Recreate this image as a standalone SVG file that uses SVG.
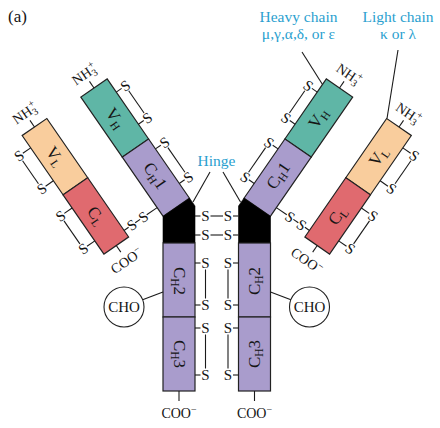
<svg xmlns="http://www.w3.org/2000/svg" width="440" height="428" viewBox="0 0 440 428">
<style>
text{font-family:"Liberation Serif","Times New Roman",serif;fill:#151515}
.d{stroke:#222;stroke-width:1.2}
.vh{fill:#5fb6a6}.ch{fill:#a99ccc}.vl{fill:#f9cd9d}.cl{fill:#e06a6f}
.hg{fill:#000;stroke:#000;stroke-width:0.6}
.lab{font-size:17px;text-anchor:middle}
.sub{font-size:11.5px}
.s{font-size:15px;text-anchor:middle}
.t{font-size:14px;text-anchor:middle}
.sm{font-size:10px}
.b{font-size:15.5px;text-anchor:middle;fill:#2a9fcf}
line{stroke:#1a1a1a;stroke-width:1.1;fill:none}
.cho{fill:#fff;stroke:#222;stroke-width:1.1}
</style>
<rect width="440" height="428" fill="#fff"/>
<text x="8" y="22" font-size="17">(a)</text>

<!-- left heavy chain -->
<g id="VH-left" transform="translate(94,88) rotate(-34.6)">
 <rect class="d vh" x="-16" y="0" width="32" height="73"/>
 <text class="lab" transform="translate(0,37) rotate(90)" dy="5">V<tspan class="sub" dy="3">H</tspan></text>
</g>
<g id="CH1-left" transform="translate(94,88) rotate(-34.6)">
 <rect class="d ch" x="-16" y="73" width="32" height="72"/>
 <text class="lab" transform="translate(0,107) rotate(90)" dy="5">C<tspan class="sub" dy="3">H</tspan><tspan dy="-3">1</tspan></text>
</g>
<g id="hinge-left"><polygon class="hg" points="163,216.5 189.6,198.2 195,206 195,243 163,243"/></g>
<g id="CH2-left">
 <rect class="d ch" x="163" y="243" width="32" height="74"/>
 <text class="lab" transform="translate(179,281) rotate(90)" dy="5">C<tspan class="sub" dy="3">H</tspan><tspan dy="-3">2</tspan></text>
</g>
<g id="CH3-left">
 <rect class="d ch" x="163" y="317" width="32" height="74"/>
 <text class="lab" transform="translate(179,354) rotate(90)" dy="5">C<tspan class="sub" dy="3">H</tspan><tspan dy="-3">3</tspan></text>
</g>

<!-- right heavy chain -->
<g id="VH-right" transform="translate(339.5,88) rotate(34.6)">
 <rect class="d vh" x="-16" y="0" width="32" height="73"/>
 <text class="lab" transform="translate(0,37) rotate(-90)" dy="5">V<tspan class="sub" dy="3">H</tspan></text>
</g>
<g id="CH1-right" transform="translate(339.5,88) rotate(34.6)">
 <rect class="d ch" x="-16" y="73" width="32" height="72"/>
 <text class="lab" transform="translate(0,107) rotate(-90)" dy="5">C<tspan class="sub" dy="3">H</tspan><tspan dy="-3">1</tspan></text>
</g>
<g id="hinge-right"><polygon class="hg" points="270.5,216.5 243.9,198.2 238.5,206 238.5,243 270.5,243"/></g>
<g id="CH2-right">
 <rect class="d ch" x="238.5" y="243" width="32" height="74"/>
 <text class="lab" transform="translate(254.5,281) rotate(-90)" dy="5">C<tspan class="sub" dy="3">H</tspan><tspan dy="-3">2</tspan></text>
</g>
<g id="CH3-right">
 <rect class="d ch" x="238.5" y="317" width="32" height="74"/>
 <text class="lab" transform="translate(254.5,354) rotate(-90)" dy="5">C<tspan class="sub" dy="3">H</tspan><tspan dy="-3">3</tspan></text>
</g>

<!-- light chains -->
<g id="VL-left" transform="translate(34.5,127) rotate(-34.6)">
 <rect class="d vl" x="-15" y="0" width="30" height="72"/>
 <text class="lab" transform="translate(0,36) rotate(90)" dy="5">V<tspan class="sub" dy="3">L</tspan></text>
</g>
<g id="CL-left" transform="translate(34.5,127) rotate(-34.6)">
 <rect class="d cl" x="-15" y="72" width="30" height="72"/>
 <text class="lab" transform="translate(0,108) rotate(90)" dy="5">C<tspan class="sub" dy="3">L</tspan></text>
</g>
<g id="VL-right" transform="translate(399,127) rotate(34.6)">
 <rect class="d vl" x="-15" y="0" width="30" height="72"/>
 <text class="lab" transform="translate(0,36) rotate(-90)" dy="5">V<tspan class="sub" dy="3">L</tspan></text>
</g>
<g id="CL-right" transform="translate(399,127) rotate(34.6)">
 <rect class="d cl" x="-15" y="72" width="30" height="72"/>
 <text class="lab" transform="translate(0,108) rotate(-90)" dy="5">C<tspan class="sub" dy="3">L</tspan></text>
</g>

<!-- carbohydrate -->
<g id="CHO-left"><circle class="cho" cx="124" cy="307" r="20"/><text x="124" y="312" font-size="15" text-anchor="middle">CHO</text></g>
<g id="CHO-right"><circle class="cho" cx="309.5" cy="307" r="20"/><text x="309.5" y="312" font-size="15" text-anchor="middle">CHO</text></g>

<!-- connectors: bonds, termini, leaders -->
<g id="connectors">
 <!-- left heavy arm frame -->
 <g transform="translate(94,88) rotate(-34.6)">
  <line x1="0" y1="0" x2="0" y2="-8"/>
  <text class="t" x="0" y="-12">NH<tspan class="sm" dy="3">3</tspan><tspan class="sm" dx="-4" dy="-9">+</tspan></text>
  <line x1="16" y1="16" x2="22.5" y2="16"/><line x1="16" y1="55" x2="22.5" y2="55"/><line x1="27" y1="22" x2="27" y2="49"/>
  <text class="s" x="27" y="21">S</text><text class="s" x="27" y="60">S</text>
  <line x1="16" y1="85" x2="22.5" y2="85"/><line x1="16" y1="127" x2="22.5" y2="127"/><line x1="27" y1="91" x2="27" y2="121"/>
  <text class="s" x="27" y="90">S</text><text class="s" x="27" y="132">S</text>
 </g>
 <!-- right heavy arm frame -->
 <g transform="translate(339.5,88) rotate(34.6)">
  <line x1="0" y1="0" x2="0" y2="-8"/>
  <text class="t" x="0" y="-12">NH<tspan class="sm" dy="3">3</tspan><tspan class="sm" dx="-4" dy="-9">+</tspan></text>
  <line x1="-16" y1="16" x2="-22.5" y2="16"/><line x1="-16" y1="55" x2="-22.5" y2="55"/><line x1="-27" y1="22" x2="-27" y2="49"/>
  <text class="s" x="-27" y="21">S</text><text class="s" x="-27" y="60">S</text>
  <line x1="-16" y1="85" x2="-22.5" y2="85"/><line x1="-16" y1="127" x2="-22.5" y2="127"/><line x1="-27" y1="91" x2="-27" y2="121"/>
  <text class="s" x="-27" y="90">S</text><text class="s" x="-27" y="132">S</text>
 </g>
 <!-- left light frame -->
 <g transform="translate(34.5,127) rotate(-34.6)">
  <line x1="0" y1="0" x2="0" y2="-8"/>
  <text class="t" x="0" y="-12">NH<tspan class="sm" dy="3">3</tspan><tspan class="sm" dx="-4" dy="-9">+</tspan></text>
  <line x1="-15" y1="15" x2="-24.5" y2="15"/><line x1="-15" y1="55" x2="-24.5" y2="55"/><line x1="-29" y1="21" x2="-29" y2="49"/>
  <text class="s" x="-29" y="20">S</text><text class="s" x="-29" y="60">S</text>
  <line x1="-15" y1="88" x2="-24.5" y2="88"/><line x1="-15" y1="128" x2="-24.5" y2="128"/><line x1="-29" y1="94" x2="-29" y2="122"/>
  <text class="s" x="-29" y="93">S</text><text class="s" x="-29" y="133">S</text>
  <line x1="15" y1="136" x2="20.5" y2="136"/><line x1="28.5" y1="136" x2="34.5" y2="136"/><line x1="42.5" y1="136" x2="55.2" y2="136"/>
  <text class="s" x="24.5" y="141">S</text><text class="s" x="38.5" y="141">S</text>
  <line x1="0" y1="144" x2="0" y2="152"/>
  <text class="t" x="0" y="167">COO<tspan class="sm" dy="-5">−</tspan></text>
 </g>
 <!-- right light frame -->
 <g transform="translate(399,127) rotate(34.6)">
  <line x1="0" y1="0" x2="0" y2="-8"/>
  <text class="t" x="0" y="-12">NH<tspan class="sm" dy="3">3</tspan><tspan class="sm" dx="-4" dy="-9">+</tspan></text>
  <line x1="15" y1="15" x2="24.5" y2="15"/><line x1="15" y1="55" x2="24.5" y2="55"/><line x1="29" y1="21" x2="29" y2="49"/>
  <text class="s" x="29" y="20">S</text><text class="s" x="29" y="60">S</text>
  <line x1="15" y1="88" x2="24.5" y2="88"/><line x1="15" y1="128" x2="24.5" y2="128"/><line x1="29" y1="94" x2="29" y2="122"/>
  <text class="s" x="29" y="93">S</text><text class="s" x="29" y="133">S</text>
  <line x1="-15" y1="136" x2="-20.5" y2="136"/><line x1="-28.5" y1="136" x2="-34.5" y2="136"/><line x1="-42.5" y1="136" x2="-55.2" y2="136"/>
  <text class="s" x="-24.5" y="141">S</text><text class="s" x="-38.5" y="141">S</text>
  <line x1="0" y1="144" x2="0" y2="152"/>
  <text class="t" x="0" y="167">COO<tspan class="sm" dy="-5">−</tspan></text>
 </g>
 <!-- hinge interchain bonds -->
 <line x1="195" y1="216" x2="200.5" y2="216"/><line x1="210.5" y1="216" x2="223" y2="216"/><line x1="233" y1="216" x2="238.5" y2="216"/>
 <text class="s" x="205.5" y="221">S</text><text class="s" x="228" y="221">S</text>
 <line x1="195" y1="235" x2="200.5" y2="235"/><line x1="210.5" y1="235" x2="223" y2="235"/><line x1="233" y1="235" x2="238.5" y2="235"/>
 <text class="s" x="205.5" y="240">S</text><text class="s" x="228" y="240">S</text>
 <!-- stem intrachain bonds -->
 <line x1="195" y1="263" x2="200.5" y2="263"/><line x1="195" y1="305" x2="200.5" y2="305"/><line x1="205.5" y1="269.5" x2="205.5" y2="298.5"/>
 <line x1="195" y1="328" x2="200.5" y2="328"/><line x1="195" y1="375" x2="200.5" y2="375"/><line x1="205.5" y1="334.5" x2="205.5" y2="368.5"/>
 <text class="s" x="205.5" y="268">S</text><text class="s" x="205.5" y="310">S</text><text class="s" x="205.5" y="333">S</text><text class="s" x="205.5" y="380">S</text>
 <line x1="233" y1="263" x2="238.5" y2="263"/><line x1="233" y1="305" x2="238.5" y2="305"/><line x1="228" y1="269.5" x2="228" y2="298.5"/>
 <line x1="233" y1="328" x2="238.5" y2="328"/><line x1="233" y1="375" x2="238.5" y2="375"/><line x1="228" y1="334.5" x2="228" y2="368.5"/>
 <text class="s" x="228" y="268">S</text><text class="s" x="228" y="310">S</text><text class="s" x="228" y="333">S</text><text class="s" x="228" y="380">S</text>
 <!-- CHO links -->
 <line x1="142.6" y1="299.8" x2="163" y2="292"/>
 <line x1="290.9" y1="299.8" x2="270.5" y2="292"/>
 <!-- C termini of heavy chains -->
 <line x1="179" y1="391" x2="179" y2="401"/>
 <text class="t" x="179" y="418">COO<tspan class="sm" dy="-5">−</tspan></text>
 <line x1="254.5" y1="391" x2="254.5" y2="401"/>
 <text class="t" x="254.5" y="418">COO<tspan class="sm" dy="-5">−</tspan></text>
 <!-- label leaders -->
 <line x1="302" y1="52" x2="322.5" y2="84.5"/>
 <line x1="398" y1="50" x2="387" y2="118.5"/>
 <line x1="210" y1="172" x2="193" y2="202"/>
 <line x1="223" y1="172" x2="240.5" y2="202"/>
</g>

<g id="labels">
 <text class="b" x="298.5" y="22">Heavy chain</text>
 <text class="b" x="298.5" y="39">μ,γ,α,δ, or ε</text>
 <text class="b" x="398" y="22">Light chain</text>
 <text class="b" x="398" y="39">κ or λ</text>
 <text class="b" x="216.5" y="165.5">Hinge</text>
</g>
</svg>
